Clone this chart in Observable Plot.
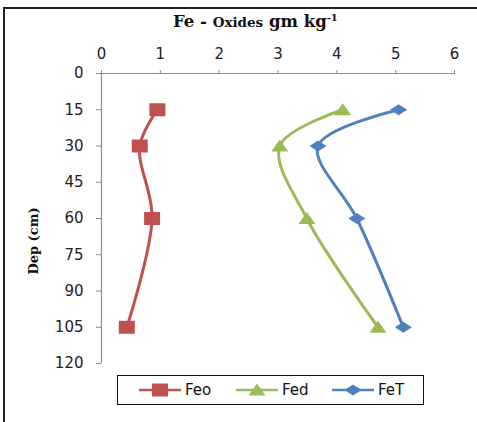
<!DOCTYPE html>
<html>
<head>
<meta charset="utf-8">
<script src="https://cdn.jsdelivr.net/npm/d3@7"></script>
<script src="https://cdn.jsdelivr.net/npm/@observablehq/plot@0.6"></script>
<style>
  html, body { margin: 0; padding: 0; background: #fff; overflow: hidden; }
  #wrap { position: relative; width: 477px; height: 422px; overflow: hidden; background: #fff; }
  #frame { position: absolute; left: 3px; top: 7px; width: 520px; height: 520px; border: 2px solid #222; box-sizing: border-box; }
  #chart { position: absolute; left: 0; top: 0; }
  #title { position: absolute; left: 173px; top: 12px; font-family: "DejaVu Serif", "Liberation Serif", serif; font-weight: bold; font-size: 16.5px; color: #111; white-space: nowrap; }
  #title .small { font-size: 13.5px; }
  #title sup { font-size: 10px; vertical-align: 6px; line-height: 0; }
  #ylabel { position: absolute; left: 33px; top: 241px; transform: translate(-50%, -50%) rotate(-90deg); font-family: "DejaVu Serif", "Liberation Serif", serif; font-weight: bold; font-size: 13px; color: #111; white-space: nowrap; }
  #legend { position: absolute; left: 117px; top: 375px; width: 307px; height: 30px; border: 1.5px solid #111; box-sizing: border-box; background: #fff; }
  .item { position: absolute; top: 0; height: 27px; display: flex; align-items: center; font-family: "DejaVu Sans", sans-serif; font-size: 15px; color: #111; }
  .item svg { margin-right: 4px; }
</style>
</head>
<body>
<div id="wrap">
  <div id="frame"></div>
  <div id="chart"></div>
  <div id="title">Fe - <span class="small">Oxides</span> gm kg<sup>-1</sup></div>
  <div id="ylabel">Dep (cm)</div>
  <div id="legend"></div>
</div>
<script>
// Data
const depths = [15, 30, 60, 105];
const feo = [0.95, 0.65, 0.86, 0.43];
const fed = [4.1, 3.03, 3.49, 4.7];
const fet = [5.05, 3.68, 4.34, 5.13];
const seriesNames = ["Feo", "Fed", "FeT"];
const seriesColors = ["#C0504D", "#9BBB59", "#4F81BD"];
const xTicks = [0, 1, 2, 3, 4, 5, 6];
const yTicks = [0, 15, 30, 45, 60, 75, 90, 105, 120];

// marker symbols (slightly wide, like the reference)
const squareSym = { draw(ctx, size) { const w = 8, h = 6.5; ctx.moveTo(-w, -h); ctx.lineTo(w, -h); ctx.lineTo(w, h); ctx.lineTo(-w, h); ctx.closePath(); } };
const triSym = { draw(ctx, size) { ctx.moveTo(0, -6.5); ctx.lineTo(8.5, 5.5); ctx.lineTo(-8.5, 5.5); ctx.closePath(); } };
const diaSym = { draw(ctx, size) { ctx.moveTo(0, -5.5); ctx.lineTo(8.5, 0); ctx.lineTo(0, 5.5); ctx.lineTo(-8.5, 0); ctx.closePath(); } };
const symbols = [squareSym, triSym, diaSym];

const allSeries = [feo, fed, fet];
const rows = [];
allSeries.forEach((vals, i) => {
  vals.forEach((v, j) => rows.push({ series: seriesNames[i], idx: i, value: v, depth: depths[j] }));
});

const marks = [
  Plot.ruleY([0], { stroke: "#8c8c8c", strokeWidth: 1.2 }),
  Plot.ruleX([0], { stroke: "#8c8c8c", strokeWidth: 1.2 }),
  Plot.axisX({ anchor: "top", ticks: xTicks, tickFormat: d3.format("d"), tickSize: 4, tickPadding: 11, stroke: "#8c8c8c", fill: "#222", label: null, fontSize: 15 }),
  Plot.axisY({ anchor: "left", ticks: yTicks, tickFormat: d3.format("d"), tickSize: 5, tickPadding: 13, stroke: "#8c8c8c", fill: "#222", label: null, fontSize: 15 })
];
seriesNames.forEach((name, i) => {
  const data = rows.filter(r => r.idx === i);
  marks.push(Plot.line(data, { x: "value", y: "depth", stroke: seriesColors[i], strokeWidth: 3, curve: "catmull-rom" }));
  marks.push(Plot.dot(data, { x: "value", y: "depth", fill: seriesColors[i], stroke: "none", symbol: symbols[i], r: 5 }));
});

const chart = Plot.plot({
  width: 477,
  height: 422,
  marginLeft: 101,
  marginRight: 23,
  marginTop: 73,
  marginBottom: 59,
  style: { fontFamily: "DejaVu Sans, sans-serif", fontSize: "15px", background: "transparent", overflow: "visible" },
  x: { domain: [0, 6], axis: null },
  y: { domain: [0, 120], reverse: true, axis: null },
  marks
});
document.getElementById("chart").appendChild(chart);

// Legend
const legend = document.getElementById("legend");
const itemLefts = [21, 118, 214];
const shapes = [
  c => `<rect x="13" y="4.5" width="16" height="13" fill="${c}"/>`,
  c => `<path d="M21,4.5 L29.5,16.5 L12.5,16.5 Z" fill="${c}"/>`,
  c => `<path d="M21,5.5 L29.5,11 L21,16.5 L12.5,11 Z" fill="${c}"/>`
];
seriesNames.forEach((name, i) => {
  const d = document.createElement("div");
  d.className = "item";
  d.style.left = itemLefts[i] + "px";
  d.innerHTML = `<svg width="42" height="22"><line x1="0" y1="11" x2="42" y2="11" stroke="${seriesColors[i]}" stroke-width="2.5"/>${shapes[i](seriesColors[i])}</svg><span>${name}</span>`;
  legend.appendChild(d);
});
</script>
</body>
</html>
